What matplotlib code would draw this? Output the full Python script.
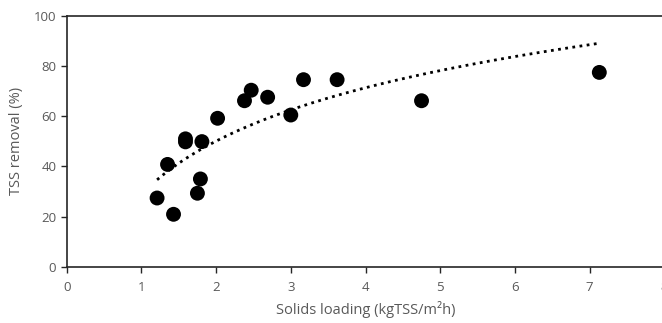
import numpy as np
import matplotlib.pyplot as plt

# Solids loading (kgTSS/m2h) vs TSS removal (%)
solids_loading = [1.21, 1.43, 1.35, 1.59, 1.59, 1.81, 1.79, 1.75, 2.02,
                  2.38, 2.47, 2.69, 3.00, 3.17, 3.62, 4.75, 7.13]
tss_removal = [27.4, 20.9, 40.8, 51.0, 49.8, 49.9, 35.0, 29.3, 59.2,
               66.2, 70.4, 67.6, 60.5, 74.6, 74.6, 66.2, 77.5]

x_ticks = [0, 1, 2, 3, 4, 5, 6, 7, 8]
y_ticks = [0, 20, 40, 60, 80, 100]

text_color = "#595959"
line_color = "#262626"

plt.rcParams["font.family"] = ["Open Sans", "DejaVu Sans"]

fig = plt.figure(figsize=(6.62, 3.23), dpi=100)
ax = fig.add_axes([66.7 / 662, (323 - 266.7) / 323, 597.6 / 662, 250.7 / 323])

x = np.array(solids_loading)
y = np.array(tss_removal)

# logarithmic trendline, as in the spreadsheet
a, b = np.polyfit(np.log(x), y, 1)
xs = np.linspace(x.min(), x.max(), 200)
ax.plot(xs, a * np.log(xs) + b, color="black", linestyle=(0, (1, 1.6)),
        linewidth=2, zorder=2)

ax.scatter(x, y, s=115, color="black", edgecolors="none", zorder=3)

ax.set_xlim(0, 8)
ax.set_ylim(0, 100)
ax.set_xticks(x_ticks)
ax.set_yticks(y_ticks)

for side in ["left", "bottom", "top"]:
    ax.spines[side].set_color(line_color)
    ax.spines[side].set_linewidth(1.2)
ax.spines["right"].set_visible(False)

ax.tick_params(axis="both", direction="out", length=4, width=1,
               color=line_color, labelcolor=text_color, labelsize=9.5)
ax.tick_params(axis="x", pad=6)

ax.set_xlabel("Solids loading (kgTSS/m²h)", color=text_color, fontsize=10.5, labelpad=5)
ax.set_ylabel("TSS removal (%)", color=text_color, fontsize=10.5, labelpad=7)

fig.savefig("out.png", dpi=100)
